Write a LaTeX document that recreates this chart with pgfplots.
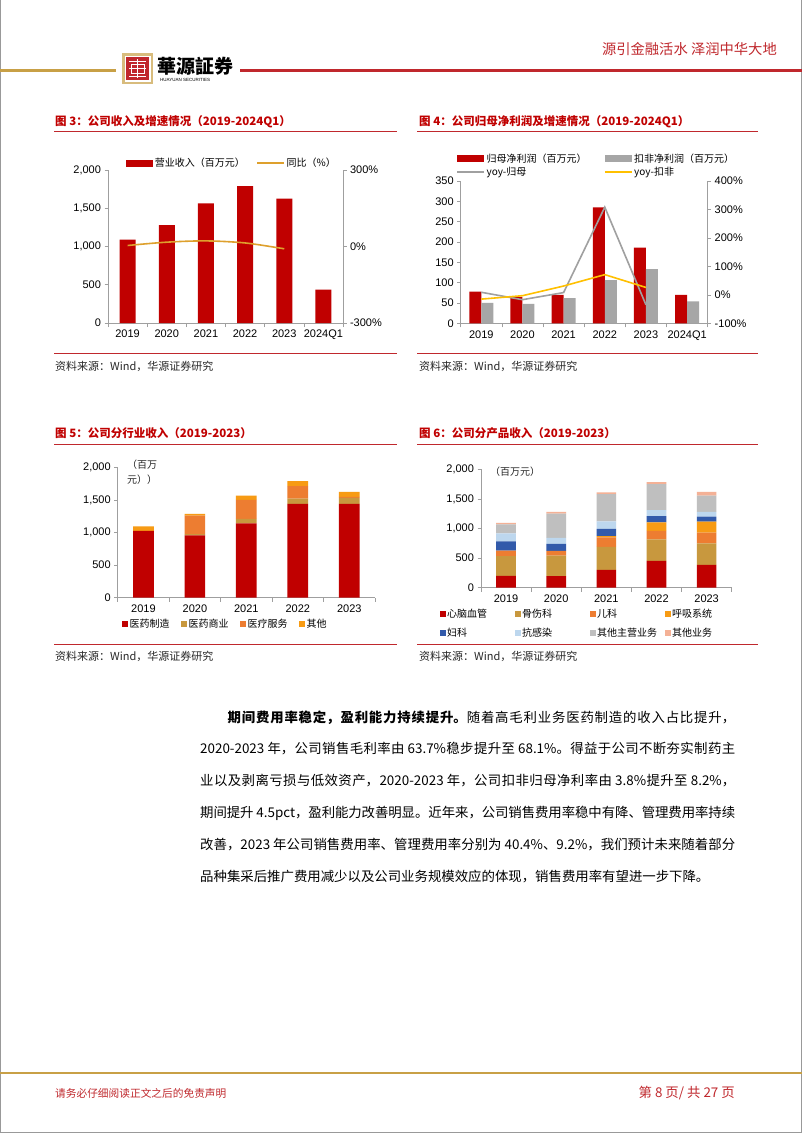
\documentclass[border=0pt]{standalone}
\usepackage{pgfplots}
\pgfplotsset{compat=1.18}
\usepackage{fontspec}
\setmainfont{Liberation Sans}
\newfontfamily\cjk{Noto Sans CJK SC}
\XeTeXlinebreaklocale "zh"
\XeTeXlinebreakskip=0pt plus 3pt minus 0.5pt
\definecolor{hred}{RGB}{192,0,0}
\definecolor{htan}{RGB}{200,152,62}
\definecolor{horange}{RGB}{237,125,49}
\definecolor{hyellow}{RGB}{247,155,20}
\definecolor{hblue}{RGB}{50,90,170}
\definecolor{hlblue}{RGB}{189,215,238}
\definecolor{hgray}{RGB}{191,191,191}
\definecolor{hpink}{RGB}{244,177,150}
\definecolor{gbar}{RGB}{166,166,166}
\definecolor{lgold}{RGB}{222,160,45}
\definecolor{yoyg}{RGB}{160,160,160}
\definecolor{yoyk}{RGB}{255,192,0}
\definecolor{rulec}{RGB}{192,40,45}
\definecolor{goldc}{RGB}{200,160,70}
\definecolor{pagetext}{RGB}{40,40,40}
\pgfplotsset{
  hy/.style={scale only axis, anchor=south west, clip=false,
    axis line style={draw=gray!75, line width=0.6pt},
    tick style={draw=gray!75, line width=0.6pt}, tick align=outside,
    major tick length=3.5pt, minor tick length=4pt,
    ticklabel style={font=\fontsize{11}{12}\selectfont, text=black},
    /pgf/number format/assume math mode=true,
    /pgf/number format/1000 sep={,}},
  rc/.style={fill=#1, draw=none, legend image code/.code={\fill[#1] (0pt,-3.5pt) rectangle (27pt,3.5pt);}},
  sq/.style={fill=#1, draw=none, legend image code/.code={\fill[#1] (0pt,-3pt) rectangle (6pt,3pt);}},
  ln/.style={legend image code/.code={\draw[#1, line width=1.6pt] (0pt,0pt) -- (27pt,0pt);}},
  hleg/.style={legend cell align=left, legend style={draw=none, fill=none, font=\cjk\fontsize{10}{12}\selectfont,
    /tikz/every even column/.append style={column sep=0pt},
    /tikz/every odd column/.append style={column sep=0pt},
    nodes={inner sep=1.5pt}}},
}
\begin{document}
\begin{tikzpicture}
\useasboundingbox (0,0) rectangle (802pt,-1133pt);
\fill[white] (0,0) rectangle (802pt,-1133pt);
\draw[gray!80, line width=1.2pt] (0.6pt,0pt) -- (0.6pt,-1132.4pt) -- (801.4pt,-1132.4pt) -- (801.4pt,0pt);
% header
\draw[goldc, line width=3pt] (0pt,-70pt) -- (116pt,-70pt);
\draw[rulec, line width=3pt] (240pt,-70pt) -- (802pt,-70pt);
\fill[goldc!70] (122pt,-53pt) rectangle (153pt,-84pt);
\fill[white] (124.5pt,-55.5pt) rectangle (150.5pt,-81.5pt);
\fill[rulec] (126pt,-57pt) rectangle (149pt,-80pt);
\draw[white, line width=1pt] (129pt,-61pt) -- (146pt,-61pt) (129pt,-68.5pt) -- (146pt,-68.5pt) (129pt,-76pt) -- (146pt,-76pt) (137.5pt,-59pt) -- (137.5pt,-78pt) (131pt,-64pt) rectangle (144pt,-73pt);
\node[anchor=west, inner sep=0pt] at (157pt,-66pt) {\cjk\bfseries\fontsize{19}{21}\selectfont 華源証券};
\node[anchor=west, inner sep=0pt] at (160pt,-80pt) {\fontsize{4.5}{5}\selectfont HUAYUAN SECURITIES};
\node[anchor=east, inner sep=0pt, text=rulec] at (777pt,-49pt) {\cjk\fontsize{14.3}{16}\selectfont 源引金融活水\ 泽润中华大地};
% footer
\draw[goldc, line width=2pt] (0pt,-1073pt) -- (802pt,-1073pt);
\node[anchor=west, inner sep=0pt, text=rulec] at (55pt,-1093pt) {\cjk\fontsize{10.7}{12}\selectfont 请务必仔细阅读正文之后的免责声明};
\node[anchor=east, inner sep=0pt, text=rulec] at (735pt,-1093pt) {\cjk\fontsize{13.4}{14}\selectfont 第 8 页/ 共 27 页};
% titles and rules
\node[anchor=west, inner sep=0pt, text=hred] at (55pt,-121.7pt) {\cjk\bfseries\fontsize{11.5}{13}\selectfont 图 3：公司收入及增速情况（2019-2024Q1）};
\node[anchor=west, inner sep=0pt, text=hred] at (419pt,-121.7pt) {\cjk\bfseries\fontsize{11.5}{13}\selectfont 图 4：公司归母净利润及增速情况（2019-2024Q1）};
\node[anchor=west, inner sep=0pt, text=hred] at (55pt,-433pt) {\cjk\bfseries\fontsize{11.5}{13}\selectfont 图 5：公司分行业收入（2019-2023）};
\node[anchor=west, inner sep=0pt, text=hred] at (419pt,-433pt) {\cjk\bfseries\fontsize{11.5}{13}\selectfont 图 6：公司分产品收入（2019-2023）};
\draw[rulec, line width=1.2pt] (54pt,-131.7pt) -- (397pt,-131.7pt);
\draw[rulec, line width=1.2pt] (417pt,-131.7pt) -- (758pt,-131.7pt);
\draw[rulec, line width=1.2pt] (54pt,-353.3pt) -- (397pt,-353.3pt);
\draw[rulec, line width=1.2pt] (417pt,-353.3pt) -- (758pt,-353.3pt);
\draw[rulec, line width=1.2pt] (54pt,-444.3pt) -- (397pt,-444.3pt);
\draw[rulec, line width=1.2pt] (417pt,-444.3pt) -- (758pt,-444.3pt);
\draw[rulec, line width=1.2pt] (54pt,-644.3pt) -- (397pt,-644.3pt);
\draw[rulec, line width=1.2pt] (417pt,-644.3pt) -- (758pt,-644.3pt);
\node[anchor=west, inner sep=0pt, text=pagetext] at (55pt,-366pt) {\cjk\fontsize{11}{13}\selectfont 资料来源：Wind，华源证券研究};
\node[anchor=west, inner sep=0pt, text=pagetext] at (419pt,-366pt) {\cjk\fontsize{11}{13}\selectfont 资料来源：Wind，华源证券研究};
\node[anchor=west, inner sep=0pt, text=pagetext] at (55pt,-656pt) {\cjk\fontsize{11}{13}\selectfont 资料来源：Wind，华源证券研究};
\node[anchor=west, inner sep=0pt, text=pagetext] at (419pt,-656pt) {\cjk\fontsize{11}{13}\selectfont 资料来源：Wind，华源证券研究};
% paragraph
\node[anchor=base west, inner sep=0pt] at (200pt,-722pt) {\parbox[t]{535pt}{\cjk\fontsize{13.4}{31.8}\selectfont
\tolerance=9999\parindent=0pt\rightskip=0pt\parfillskip=0pt plus 1fil
\hspace*{27.5pt}\textbf{期间费用率稳定，盈利能力持续提升。}随着高毛利业务医药制造的收入占比提升，\linebreak
2020-2023 年，公司销售毛利率由 63.7\%稳步提升至 68.1\%。得益于公司不断夯实制药主\linebreak
业以及剥离亏损与低效资产，2020-2023 年，公司扣非归母净利率由 3.8\%提升至 8.2\%，\linebreak
期间提升 4.5pct，盈利能力改善明显。近年来，公司销售费用率稳中有降、管理费用率持续\linebreak
改善，2023 年公司销售费用率、管理费用率分别为 40.4\%、9.2\%，我们预计未来随着部分\linebreak
品种集采后推广费用减少以及公司业务规模效应的体现，销售费用率有望进一步下降。}};

% ===== Chart 1 =====
\begin{axis}[hy, hleg, at={(108pt,-323pt)}, width=235pt, height=153pt,
  xmin=-0.5, xmax=5.5, ymin=0, ymax=2000, ytick={0,500,1000,1500,2000},
  xtick={0,...,5}, xticklabels={2019,2020,2021,2022,2023,2024Q1},
  minor xtick={-0.5,0.5,...,5.5}, major x tick style={draw=none},
  axis x line*=bottom, axis y line*=left, ybar, bar width=16pt,
  legend columns=2, legend style={at={(0.065,1.045)}, anchor=west}]
\addplot[rc=hred] coordinates {(0,1090)(1,1280)(2,1565)(3,1790)(4,1625)(5,435)};
\addlegendentry{\makebox[100pt][l]{营业收入（百万元）}}
\addlegendimage{ln=lgold}
\addlegendentry{同比（\%）}
\end{axis}
\begin{axis}[hy, at={(108pt,-323pt)}, width=235pt, height=153pt,
  xmin=-0.5, xmax=5.5, ymin=-300, ymax=300, ytick={-300,0,300},
  axis y line*=right, axis x line=none,
  yticklabel={\pgfmathprintnumber{\tick}\%}]
\addplot[lgold, line width=1.6pt, smooth, mark=none] coordinates {(0,4)(1,17)(2,22)(3,14)(4,-9)};
\end{axis}

% ===== Chart 2 =====
\begin{axis}[hy, hleg, at={(460.7pt,-323.3pt)}, width=247pt, height=142.3pt,
  xmin=-0.5, xmax=5.5, ymin=0, ymax=350, ytick={0,50,...,350},
  xtick={0,...,5}, xticklabels={2019,2020,2021,2022,2023,2024Q1},
  minor xtick={-0.5,0.5,...,5.5}, major x tick style={draw=none},
  axis x line*=bottom, axis y line*=left, ybar=0pt, bar width=12pt,
  legend columns=2, legend style={at={(-0.03,1.11)}, anchor=west}]
\addplot[rc=hred] coordinates {(0,78)(1,65)(2,70)(3,285)(4,186)(5,70)};
\addlegendentry{\makebox[116pt][l]{归母净利润（百万元）}}
\addplot[rc=gbar] coordinates {(0,50)(1,48)(2,62)(3,106)(4,133)(5,54)};
\addlegendentry{扣非净利润（百万元）}
\addlegendimage{ln=yoyg}
\addlegendentry{\makebox[116pt][l]{yoy-归母}}
\addlegendimage{ln=yoyk}
\addlegendentry{yoy-扣非}
\end{axis}
\begin{axis}[hy, at={(460.7pt,-323.3pt)}, width=247pt, height=142.3pt,
  xmin=-0.5, xmax=5.5, ymin=-100, ymax=400, ytick={-100,0,...,400},
  axis y line*=right, axis x line=none,
  yticklabel={\pgfmathprintnumber{\tick}\%}]
\addplot[yoyg, line width=1.6pt, mark=none] coordinates {(0,9)(1,-17)(2,8)(3,308)(4,-35)};
\addplot[yoyk, line width=1.6pt, mark=none] coordinates {(0,-15)(1,-3)(2,31)(3,71)(4,26)};
\end{axis}

% ===== Chart 3 =====
\node[anchor=west, inner sep=0pt, text=pagetext] at (127pt,-465pt) {\cjk\fontsize{10}{12}\selectfont （百万};
\node[anchor=west, inner sep=0pt, text=pagetext] at (127pt,-480pt) {\cjk\fontsize{10}{12}\selectfont 元））};
\begin{axis}[hy, hleg, at={(117.7pt,-597.7pt)}, width=257.3pt, height=130.4pt,
  xmin=-0.5, xmax=4.5, ymin=0, ymax=2000, ytick={0,500,1000,1500,2000},
  xtick={0,...,4}, xticklabels={2019,2020,2021,2022,2023},
  minor xtick={-0.5,0.5,...,4.5}, major x tick style={draw=none},
  axis x line*=bottom, axis y line*=left, ybar stacked, bar width=20.7pt,
  legend columns=4, legend style={at={(0.005,-0.2)}, anchor=west}]
\addplot[sq=hred] coordinates {(0,1025)(1,955)(2,1140)(3,1440)(4,1440)};
\addlegendentry{\makebox[50pt][l]{医药制造}}
\addplot[sq=htan] coordinates {(0,0)(1,20)(2,70)(3,80)(4,90)};
\addlegendentry{\makebox[50pt][l]{医药商业}}
\addplot[sq=horange] coordinates {(0,0)(1,285)(2,290)(3,190)(4,15)};
\addlegendentry{\makebox[50pt][l]{医疗服务}}
\addplot[sq=hyellow] coordinates {(0,70)(1,25)(2,65)(3,80)(4,80)};
\addlegendentry{其他}
\end{axis}

% ===== Chart 4 =====
\node[anchor=west, inner sep=0pt, text=pagetext] at (490pt,-472pt) {\cjk\fontsize{10}{12}\selectfont （百万元）};
\begin{axis}[hy, hleg, at={(481pt,-587.7pt)}, width=250.7pt, height=118.4pt,
  xmin=-0.5, xmax=4.5, ymin=0, ymax=2000, ytick={0,500,1000,1500,2000},
  xtick={0,...,4}, xticklabels={2019,2020,2021,2022,2023},
  minor xtick={-0.5,0.5,...,4.5}, major x tick style={draw=none},
  axis x line*=bottom, axis y line*=left, ybar stacked, bar width=19.7pt,
  legend columns=4, legend style={at={(-0.178,-0.305)}, anchor=west, row sep=6pt}]
\addplot[sq=hred] coordinates {(0,200)(1,195)(2,300)(3,455)(4,385)};
\addlegendentry{\makebox[66pt][l]{心脑血管}}
\addplot[sq=htan] coordinates {(0,335)(1,345)(2,390)(3,360)(4,365)};
\addlegendentry{\makebox[66pt][l]{骨伤科}}
\addplot[sq=horange] coordinates {(0,90)(1,84)(2,160)(3,146)(4,180)};
\addlegendentry{\makebox[66pt][l]{儿科}}
\addplot[sq=hyellow] coordinates {(0,0)(1,0)(2,20)(3,141)(4,185)};
\addlegendentry{呼吸系统}
\addplot[sq=hblue] coordinates {(0,157)(1,118)(2,125)(3,106)(4,85)};
\addlegendentry{\makebox[66pt][l]{妇科}}
\addplot[sq=hlblue] coordinates {(0,135)(1,101)(2,125)(3,101)(4,80)};
\addlegendentry{\makebox[66pt][l]{抗感染}}
\addplot[sq=hgray] coordinates {(0,152)(1,410)(2,460)(3,439)(4,275)};
\addlegendentry{\makebox[66pt][l]{其他主营业务}}
\addplot[sq=hpink] coordinates {(0,28)(1,28)(2,30)(3,34)(4,65)};
\addlegendentry{其他业务}
\end{axis}
\end{tikzpicture}
\end{document}
